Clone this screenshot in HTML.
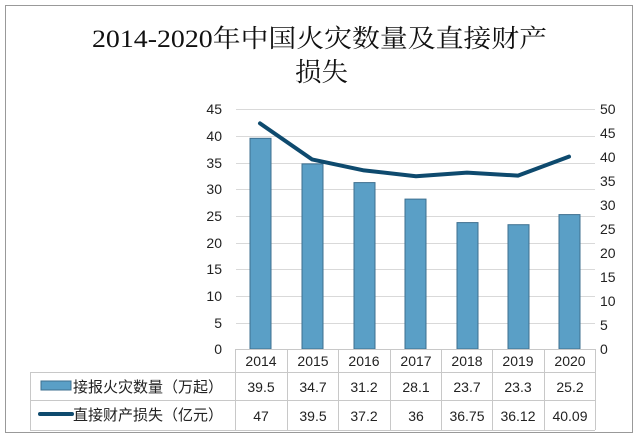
<!DOCTYPE html>
<html><head><meta charset="utf-8"><style>
body{margin:0;background:#fff;}
svg text{font-family:"Liberation Sans","Noto Sans CJK SC",sans-serif;}
</style></head><body>
<svg width="640" height="440" xmlns="http://www.w3.org/2000/svg">
<rect x="0" y="0" width="640" height="440" fill="#fff"/>
<rect x="5.5" y="5.5" width="627" height="427" fill="none" stroke="#999" stroke-width="1"/>
<text x="92" y="47" font-size="25" textLength="455" lengthAdjust="spacingAndGlyphs" style="font-family:'Liberation Serif','Noto Serif CJK SC',serif" fill="#111">2014-2020年中国火灾数量及直接财产</text>
<text x="295" y="81" font-size="26" textLength="53" lengthAdjust="spacingAndGlyphs" style="font-family:'Liberation Serif','Noto Serif CJK SC',serif" fill="#111">损失</text>
<g stroke="#d9d9d9" stroke-width="1">
<line x1="236" x2="595" y1="109.5" y2="109.5"/>
<line x1="236" x2="595" y1="136.5" y2="136.5"/>
<line x1="236" x2="595" y1="163.5" y2="163.5"/>
<line x1="236" x2="595" y1="189.5" y2="189.5"/>
<line x1="236" x2="595" y1="216.5" y2="216.5"/>
<line x1="236" x2="595" y1="243.5" y2="243.5"/>
<line x1="236" x2="595" y1="269.5" y2="269.5"/>
<line x1="236" x2="595" y1="296.5" y2="296.5"/>
<line x1="236" x2="595" y1="323.5" y2="323.5"/>
</g>
<g font-size="14" fill="#222" text-anchor="end">
<text x="222" y="114">45</text><text x="222" y="141">40</text><text x="222" y="168">35</text><text x="222" y="194">30</text><text x="222" y="221">25</text><text x="222" y="248">20</text><text x="222" y="274">15</text><text x="222" y="301">10</text><text x="222" y="328">5</text><text x="222" y="354">0</text>
</g>
<g font-size="14" fill="#222" text-anchor="start">
<text x="600" y="114">50</text><text x="600" y="138">45</text><text x="600" y="162">40</text><text x="600" y="186">35</text><text x="600" y="210">30</text><text x="600" y="234">25</text><text x="600" y="258">20</text><text x="600" y="282">15</text><text x="600" y="306">10</text><text x="600" y="330">5</text><text x="600" y="354">0</text>
</g>
<g fill="#5a9fc6" stroke="#3d6f8f" stroke-width="1">
<rect x="250" y="138.3" width="21" height="210.7"/>
<rect x="302" y="163.9" width="21" height="185.1"/>
<rect x="354" y="182.6" width="21" height="166.4"/>
<rect x="405" y="199.1" width="21" height="149.9"/>
<rect x="457" y="222.6" width="21" height="126.4"/>
<rect x="508" y="224.7" width="21" height="124.3"/>
<rect x="559" y="214.6" width="21" height="134.4"/>
</g>
<polyline fill="none" stroke="#0e4a6e" stroke-width="4" stroke-linejoin="round" stroke-linecap="round"
points="260,123.4 312,159.4 364,170.4 416,176.2 467,172.6 518,175.6 569,156.6"/>
<g stroke="#c8c8c8" stroke-width="1" fill="none">
<line x1="236" x2="595" y1="349.5" y2="349.5"/>
<line x1="30" x2="595" y1="372.5" y2="372.5"/>
<line x1="30" x2="595" y1="400.5" y2="400.5"/>
<line x1="30" x2="595" y1="430.5" y2="430.5"/>
<line x1="30.5" x2="30.5" y1="372" y2="430"/>
<line x1="235.5" x2="235.5" y1="349" y2="430"/>
<line x1="287.5" x2="287.5" y1="349" y2="430"/>
<line x1="338.5" x2="338.5" y1="349" y2="430"/>
<line x1="390.5" x2="390.5" y1="349" y2="430"/>
<line x1="441.5" x2="441.5" y1="349" y2="430"/>
<line x1="492.5" x2="492.5" y1="349" y2="430"/>
<line x1="544.5" x2="544.5" y1="349" y2="430"/>
<line x1="595.5" x2="595.5" y1="349" y2="430"/>
</g>
<g font-size="14" fill="#222" text-anchor="middle">
<text x="261" y="366">2014</text><text x="313" y="366">2015</text><text x="364" y="366">2016</text><text x="416" y="366">2017</text><text x="467" y="366">2018</text><text x="518" y="366">2019</text><text x="570" y="366">2020</text>
<text x="261" y="392">39.5</text><text x="313" y="392">34.7</text><text x="364" y="392">31.2</text><text x="416" y="392">28.1</text><text x="467" y="392">23.7</text><text x="518" y="392">23.3</text><text x="570" y="392">25.2</text>
<text x="261" y="421">47</text><text x="313" y="421">39.5</text><text x="364" y="421">37.2</text><text x="416" y="421">36</text><text x="467" y="421">36.75</text><text x="518" y="421">36.12</text><text x="570" y="421">40.09</text>
</g>
<rect x="41" y="381" width="30" height="9" fill="#5a9fc6" stroke="#3d6f8f"/>
<line x1="40" x2="72" y1="414" y2="414" stroke="#0e4a6e" stroke-width="4" stroke-linecap="round"/>
<g font-size="15" fill="#222">
<text x="73" y="392">接报火灾数量（万起）</text>
<text x="73" y="420">直接财产损失（亿元）</text>
</g>
</svg>
</body></html>
